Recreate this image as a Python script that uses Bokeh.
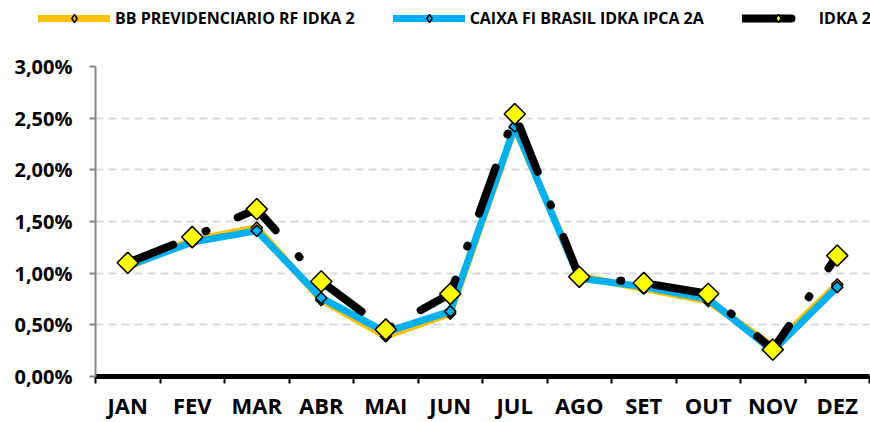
import math
from bokeh.plotting import figure
from bokeh.layouts import column
from bokeh.models import Range1d, FixedTicker, Legend, LegendItem
from bokeh.embed import file_html
from bokeh.resources import INLINE

MONTHS = ["JAN", "FEV", "MAR", "ABR", "MAI", "JUN", "JUL", "AGO", "SET", "OUT", "NOV", "DEZ"]
BB_PREV = [1.06, 1.32, 1.44, 0.74, 0.39, 0.61, 2.41, 0.97, 0.85, 0.73, 0.29, 0.89]
CAIXA = [1.07, 1.30, 1.41, 0.76, 0.43, 0.63, 2.42, 0.95, 0.87, 0.75, 0.25, 0.865]
IDKA2 = [1.10, 1.35, 1.62, 0.92, 0.455, 0.80, 2.54, 0.965, 0.905, 0.80, 0.26, 1.17]
SERIES_NAMES = ["BB PREVIDENCIARIO RF IDKA 2", "CAIXA FI BRASIL IDKA IPCA 2A", "IDKA 2"]
Y_TICKS = [0.0, 0.5, 1.0, 1.5, 2.0, 2.5, 3.0]
Y_LABELS = ["0,00%", "0,50%", "1,00%", "1,50%", "2,00%", "2,50%", "3,00%"]

FONT = "Open Sans"
ORANGE = "#FFC000"
BLUE = "#00B0F0"
YELLOW = "#FFFF00"
IDKA_DASH = "49 35 1 34"

W = 870
LEG_H = 30
H = 422 - LEG_H
TOP, BOTTOM, LEFT, RIGHT = 66 - LEG_H, 46, 95, 1

x = list(range(len(MONTHS)))

p = figure(width=W, height=H, x_range=Range1d(-0.5, len(MONTHS) - 0.5), y_range=Range1d(0, 3.0),
           output_backend="svg", toolbar_location=None, title=None,
           min_border_left=LEFT, min_border_right=RIGHT, min_border_top=TOP, min_border_bottom=BOTTOM)
p.frame_align = False
p.outline_line_color = None
p.background_fill_color = "white"
p.border_fill_color = "white"

# grid
p.xgrid.visible = False
p.ygrid.ticker = FixedTicker(ticks=Y_TICKS)
p.ygrid.grid_line_color = "#D9D9D9"
p.ygrid.grid_line_width = 2
p.ygrid.grid_line_dash = "8 5"

# y axis
ya = p.yaxis[0]
ya.ticker = FixedTicker(ticks=Y_TICKS)
ya.major_label_overrides = dict(zip(Y_TICKS, Y_LABELS))
ya.axis_line_color = "#868686"
ya.axis_line_width = 2
ya.major_tick_line_color = "#868686"
ya.major_tick_line_width = 2
ya.major_tick_out = 6
ya.major_tick_in = 0
ya.minor_tick_line_color = None
ya.major_label_standoff = 17
ya.major_label_text_font = FONT
ya.major_label_text_font_style = "bold"
ya.major_label_text_font_size = "20px"
ya.major_label_text_color = "black"

# x axis
xa = p.xaxis[0]
xa.ticker = FixedTicker(ticks=x, minor_ticks=[i - 0.5 for i in range(len(MONTHS) + 1)])
xa.major_label_overrides = dict(zip(x, MONTHS))
xa.axis_line_color = "black"
xa.axis_line_width = 5
xa.major_tick_line_color = None
xa.major_tick_out = 0
xa.major_tick_in = 0
xa.minor_tick_line_color = "black"
xa.minor_tick_line_width = 2
xa.minor_tick_out = 7
xa.minor_tick_in = 0
xa.major_label_standoff = 6
xa.major_label_text_font = FONT
xa.major_label_text_font_style = "bold"
xa.major_label_text_font_size = "22px"
xa.major_label_text_color = "black"

ROT = math.pi / 4

# series
p.line(x, BB_PREV, line_color=ORANGE, line_width=7, line_join="round", line_cap="round")
p.scatter(x, BB_PREV, marker="square", angle=ROT, size=8, fill_color=ORANGE,
          line_color="black", line_width=1.5)
p.line(x, CAIXA, line_color=BLUE, line_width=7, line_join="round", line_cap="round")
p.scatter(x, CAIXA, marker="square", angle=ROT, size=8, fill_color=BLUE,
          line_color="black", line_width=1.5)
p.line(x, IDKA2, line_color="black", line_width=8, line_dash=IDKA_DASH,
       line_join="round", line_cap="round")
p.scatter(x, IDKA2, marker="square", angle=ROT, size=15, fill_color=YELLOW,
          line_color="black", line_width=1.5)

# legend strip: a figure of its own above the chart; its ranges keep the
# series copies out of view, so only their legend glyphs are drawn
lg = figure(width=W, height=LEG_H, x_range=Range1d(-100, -99), y_range=Range1d(-100, -99),
            x_axis_type=None, y_axis_type=None, output_backend="svg", toolbar_location=None,
            title=None, min_border=0)
lg.frame_align = False
lg.outline_line_color = None
lg.xgrid.visible = False
lg.ygrid.visible = False
lg.border_fill_color = "white"
lg.background_fill_color = "white"

l1 = lg.line(x, BB_PREV, line_color=ORANGE, line_width=7, line_cap="round")
m1 = lg.scatter(x, BB_PREV, marker="diamond", fill_color=ORANGE, line_color="black", line_width=1.5)
l2 = lg.line(x, CAIXA, line_color=BLUE, line_width=7, line_cap="round")
m2 = lg.scatter(x, CAIXA, marker="diamond", fill_color=BLUE, line_color="black", line_width=1.5)
l3 = lg.line(x, IDKA2, line_color="black", line_width=8, line_dash=IDKA_DASH, line_cap="round")
m3 = lg.scatter(x, IDKA2, marker="diamond", fill_color=YELLOW, line_color="black", line_width=1.5)

legend = Legend(items=[LegendItem(label=SERIES_NAMES[0], renderers=[l1, m1]),
                       LegendItem(label=SERIES_NAMES[1], renderers=[l2, m2]),
                       LegendItem(label=SERIES_NAMES[2], renderers=[l3, m3])],
                orientation="horizontal",
                location=(38, 1),
                glyph_width=72, glyph_height=20, label_standoff=5, spacing=38,
                padding=0, margin=0, border_line_color=None, background_fill_alpha=0,
                label_text_font=FONT, label_text_font_style="bold",
                label_text_font_size="16px", label_text_color="black")
lg.add_layout(legend, "center")

layout = column(lg, p, spacing=0)
open("out.html", "w").write(file_html(layout, INLINE))
